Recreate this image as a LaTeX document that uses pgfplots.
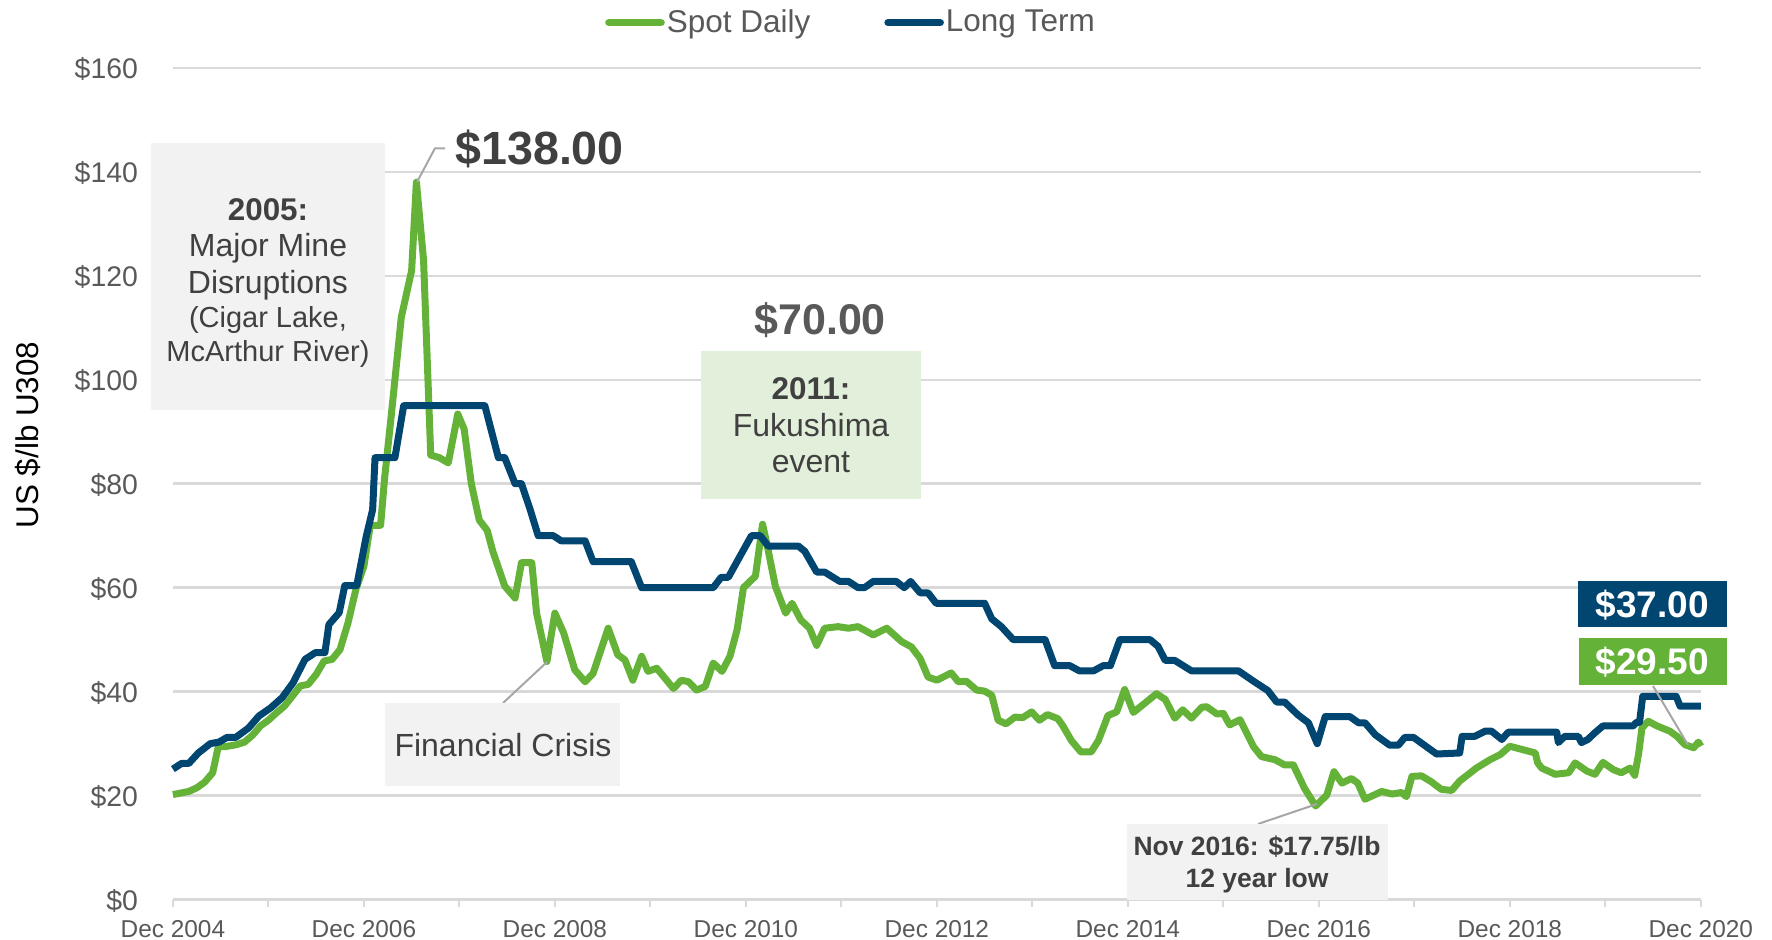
\documentclass[border=0pt]{standalone}
\usepackage{pgfplots}
\pgfplotsset{compat=1.18}
\usepackage{fontspec}
\setmainfont{Liberation Sans}
\definecolor{spot}{RGB}{101,178,57}
\definecolor{lt}{RGB}{0,70,112}
\definecolor{gridc}{RGB}{217,217,217}
\definecolor{tickc}{RGB}{89,89,89}
\definecolor{annot}{RGB}{64,64,64}
\definecolor{boxgray}{RGB}{242,242,242}
\definecolor{boxgreen}{RGB}{226,239,218}
\definecolor{leader}{RGB}{166,166,166}

\pgfplotstableread{
m v
0 20.2
1 20.5
2 20.8
3 21.5
4 22.6
5 24.4
5.7 29.4
6.5 29.4
8 29.8
9 30.3
10 31.6
11 33.4
12 34.5
13 35.9
14 37.2
15 39.1
16 41.1
17 41.4
18 43.3
19 45.9
20 46.2
21 48.1
22 53.2
23 59.7
24 64.1
24.8 72
26.1 72
26.6 81
27.5 94
28.3 106
28.7 112
30.0 121
30.6 138
31.5 123
32.4 85.5
33.5 85
34.6 84
35.8 93.4
36.6 90.5
37.5 80
38.5 73
39.5 71
40.2 67
41.7 60.3
43.0 58
43.8 64.8
45.1 64.8
45.7 55.1
47.0 45.8
48.0 55.1
49.1 51.3
50.5 44.2
51.8 41.9
52.8 43.5
54.7 52.2
55.9 47.1
56.8 46.1
57.8 42.2
58.9 46.8
59.7 43.9
60.8 44.5
62.9 40.6
63.9 42.2
64.8 41.9
65.8 40.3
66.9 41
67.9 45.5
69.0 43.9
70.0 46.8
70.9 51.9
71.7 60
73.2 62.2
74.1 72.2
74.7 68
75.7 60.3
77.0 55.1
77.8 57
78.9 53.8
80.0 52.2
80.9 48.9
81.9 52.2
83.6 52.5
84.9 52.2
86.1 52.5
88.0 50.9
89.7 52.2
91.6 49.6
92.8 48.6
93.9 46.4
94.9 42.8
96.0 42.2
97.8 43.6
98.7 41.9
99.7 42
101.0 40.3
102.0 40.1
102.9 39.3
103.7 34.5
104.7 33.8
105.8 35.1
106.8 35
107.9 36.1
108.9 34.5
109.9 35.6
111.2 34.8
111.8 33.5
112.9 30.6
114.1 28.4
115.4 28.4
116.3 30.6
117.5 35.4
118.6 36.1
119.6 40.4
120.7 36
123.6 39.6
124.7 38.5
125.9 34.9
126.9 36.5
128.0 34.9
129.3 37
129.9 37.1
131.2 35.7
132.0 35.8
132.8 33.6
134.1 34.6
135.8 29.4
136.8 27.5
138.5 26.9
139.7 25.9
140.8 25.9
142.2 21.4
143.6 18.0
145.0 20.1
145.9 24.6
146.9 22.4
148.1 23.3
148.9 22.4
149.8 19.3
151.9 20.8
153.2 20.3
154.4 20.6
155.0 19.8
155.7 23.7
156.9 23.8
158.1 22.7
159.4 21.2
160.7 21
161.7 22.8
163.8 25.3
165.5 26.9
166.8 27.9
168.0 29.5
171.2 28.2
171.5 26.3
172.0 25.3
173.7 24.1
175.4 24.4
176.2 26.3
177.7 24.7
178.7 24.1
179.7 26.4
181.0 25
182.0 24.4
183.1 25.3
183.7 23.9
184.2 28.2
184.6 33.0
185.4 34.3
186.5 33.4
188.1 32.4
189.0 31.4
190.0 29.8
191.1 29.2
191.7 30.3
192 29.5
}\spotdata

\pgfplotstableread{
m v
0 25.1
1.1 26.2
2 26.2
3.2 28.2
4.7 30.0
5.8 30.3
6.8 31.2
7.9 31.2
9.5 33.0
10.8 35.3
12.3 36.9
13.7 38.8
15.1 41.7
16.6 46.2
17.9 47.5
19.1 47.5
19.6 52.9
20.9 55.2
21.6 60.4
23.1 60.4
24.3 69.9
25.1 75
25.4 85
27.9 85
29.0 95
39.2 95
40.9 85
41.7 85
43.0 80
43.8 80
44.9 75
45.9 70
47.8 70
48.8 69
51.8 69
52.8 65
57.6 65
58.9 60
67.9 60
68.9 62
69.8 62
72.7 70
73.8 70
74.8 68
78.6 68
79.4 67
80.9 63
81.9 63
83.8 61.2
84.9 61.2
86.1 60
86.9 60
88.0 61.2
90.9 61.2
91.9 60
92.7 61.2
93.9 59
94.9 59
95.9 57
102.0 57
102.9 54
104.1 52.5
105.6 50
109.6 50
110.8 45
112.7 45
113.9 44
115.7 44
116.9 45
117.8 45
119.0 50
122.8 50
123.8 48.7
124.7 46
125.9 46
128.0 44
133.9 44
135.8 42
137.6 40.2
138.7 38
139.7 38
141.4 35.5
142.7 34
143.8 30
144.8 35.2
147.9 35.2
149.0 34
149.8 34
151.1 31.7
152.9 29.7
154.0 29.7
154.8 31.2
155.9 31.2
158.8 28
161.7 28.2
162.0 31.4
163.6 31.4
164.9 32.4
165.7 32.4
167.0 30.8
167.8 32.2
173.9 32.2
174.1 30.2
174.9 31.4
176.6 31.4
177.0 30.2
177.8 30.8
178.7 32.1
179.7 33.4
183.5 33.4
183.9 34.1
184.3 34.1
184.7 39.1
188.9 39.1
189.4 37.2
192 37.2
}\ltdata

\begin{document}
\begin{tikzpicture}
\useasboundingbox (-86.45pt,-20.2pt) rectangle (799.55pt,449.8pt);
\begin{axis}[
  at={(0pt,0pt)}, anchor=south west,
  scale only axis, width=763.95pt, height=415.9pt,
  xmin=0, xmax=192, ymin=0, ymax=160,
  axis x line*=bottom, axis y line*=left,
  x axis line style={gridc, line width=1.2pt, -},
  y axis line style={draw=none},
  xtick={0,24,...,192},
  xticklabels={Dec 2004,Dec 2006,Dec 2008,Dec 2010,Dec 2012,Dec 2014,Dec 2016,Dec 2018,Dec 2020},
  minor xtick={12,36,...,180},
  tick align=outside,
  major tick length=3.5pt, minor tick length=3.5pt,
  xtick style={gridc, line width=1pt},
  ytick={0,20,...,160},
  yticklabels={\$0,\$20,\$40,\$60,\$80,\$100,\$120,\$140,\$160},
  ytick style={draw=none},
  ymajorgrids, major grid style={gridc, line width=1.2pt},
  xticklabel style={font=\fontsize{12.2}{14}\selectfont, text=tickc, anchor=base, inner sep=0pt, yshift=-15.6pt},
  yticklabel style={font=\fontsize{14.2}{16}\selectfont, text=tickc, anchor=base east, inner sep=0pt, xshift=-13.8pt, yshift=-5.25pt},
  ylabel={US \$/lb U308},
  ylabel style={at={(axis description cs:-0.0948,0.5586)}, anchor=center, font=\fontsize{15.7}{18}\selectfont, text=black},
  legend style={at={(axis description cs:0.4438,1.0543)}, anchor=center, draw=none, fill=none,
    legend columns=2, font=\fontsize{15.75}{18}\selectfont, text=tickc,
    /tikz/every even column/.append style={column sep=36pt},
    nodes={inner sep=1pt}},
  legend image code/.code={\draw[#1, line width=3.8pt, line cap=round] (0pt,0pt) -- (26pt,0pt);},
  clip=false,
]
\addplot[spot, line width=3.5pt, line join=round] table[x=m, y=v] {\spotdata};
\addlegendentry{Spot Daily}
\addplot[lt, line width=3.5pt, line join=round] table[x=m, y=v] {\ltdata};
\addlegendentry{Long Term}
\end{axis}

\begin{scope}[x=0.5pt, y=-0.5pt, shift={(-86.45pt,449.8pt)}]
% 2005 box
\fill[boxgray] (151,143.5) rectangle (385,410);
\node[anchor=base, inner sep=0pt, text=annot, font=\bfseries\fontsize{15.7}{18}\selectfont] at (268,220.5) {2005:};
\node[anchor=base, inner sep=0pt, text=annot, font=\fontsize{16}{18}\selectfont] at (268,256.5) {Major Mine};
\node[anchor=base, inner sep=0pt, text=annot, font=\fontsize{16}{18}\selectfont] at (268,294) {Disruptions};
\node[anchor=base, inner sep=0pt, text=annot, font=\fontsize{14.5}{17}\selectfont] at (268,328) {(Cigar Lake,};
\node[anchor=base, inner sep=0pt, text=annot, font=\fontsize{14.5}{17}\selectfont] at (268,362) {McArthur River)};
% 138
\draw[leader, line width=1pt] (445,148.3) -- (435,148.3) -- (417,182);
\node[anchor=base west, inner sep=0pt, text=annot, font=\bfseries\fontsize{23.3}{26}\selectfont] at (455,165) {\$138.00};
% 70
\node[anchor=base west, inner sep=0pt, text=tickc, font=\bfseries\fontsize{21.5}{24}\selectfont] at (754,335) {\$70.00};
% 2011 box
\fill[boxgreen] (700.6,351.5) rectangle (921,499.5);
\node[anchor=base, inner sep=0pt, text=annot, font=\bfseries\fontsize{15.7}{18}\selectfont] at (811,400) {2011:};
\node[anchor=base, inner sep=0pt, text=annot, font=\fontsize{16}{18}\selectfont] at (811,437) {Fukushima};
\node[anchor=base, inner sep=0pt, text=annot, font=\fontsize{16}{18}\selectfont] at (811,473) {event};
% Financial crisis
\draw[leader, line width=1pt] (503,703) -- (547,662);
\fill[boxgray] (385,703) rectangle (620,786.5);
\node[anchor=base, inner sep=0pt, text=annot, font=\fontsize{16}{18}\selectfont] at (503,756.4) {Financial Crisis};
% Nov 2016
\draw[leader, line width=1pt] (1258,824) -- (1317,804);
\fill[boxgray] (1127,824) rectangle (1388,900);
\node[anchor=base, inner sep=0pt, text=annot, font=\bfseries\fontsize{13.25}{15}\selectfont] at (1257,856) {Nov 2016: \$17.75/lb};
\node[anchor=base, inner sep=0pt, text=annot, font=\bfseries\fontsize{13.25}{15}\selectfont] at (1257,887.5) {12 year low};
% end labels
\fill[lt] (1577.6,581) rectangle (1726.8,627);
\node[anchor=base, inner sep=0pt, text=white, font=\bfseries\fontsize{18.5}{21}\selectfont] at (1652,617.8) {\$37.00};
\draw[leader, line width=1pt] (1653,686) -- (1688,745);
\fill[spot] (1579,638.5) rectangle (1727,685);
\node[anchor=base, inner sep=0pt, text=white, font=\bfseries\fontsize{18.5}{21}\selectfont] at (1652,675) {\$29.50};
\end{scope}
\end{tikzpicture}
\end{document}
